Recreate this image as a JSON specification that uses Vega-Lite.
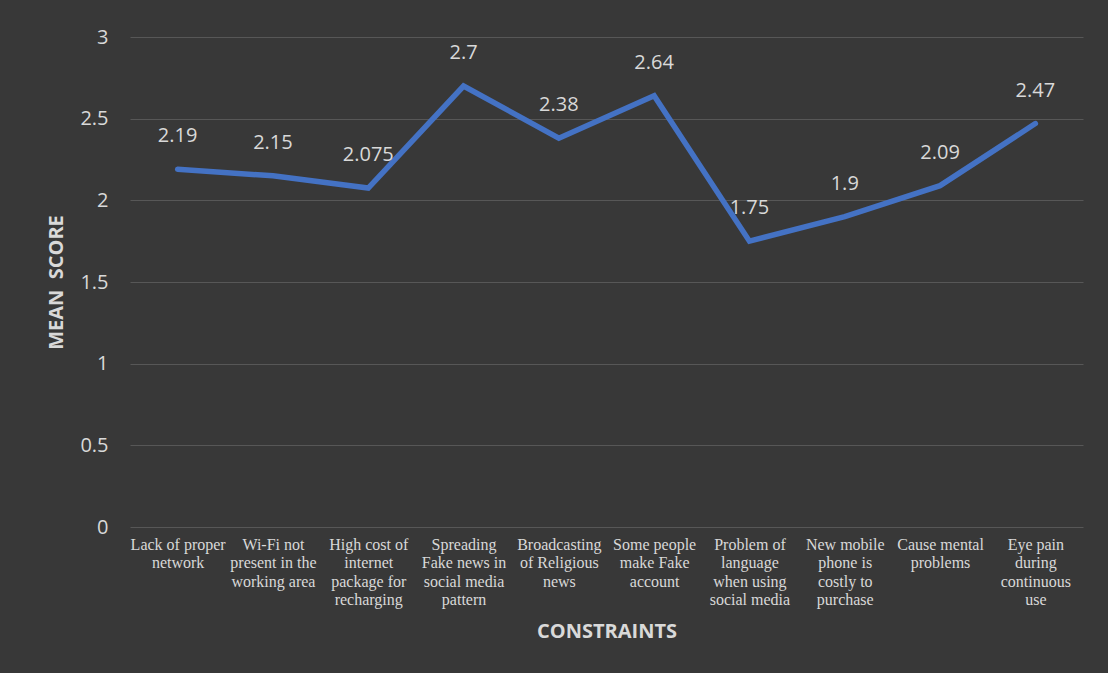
{
  "$schema": "https://vega.github.io/schema/vega-lite/v6.json",
  "width": 953,
  "height": 490,
  "autosize": {"type": "none"},
  "padding": {"left": 130, "top": 37, "right": 25, "bottom": 146},
  "background": "#383838",
  "config": {"view": {"stroke": null}},
  "data": {
    "values": [
      {"constraint": "Lack of proper|network", "score": 2.19, "label": "2.19"},
      {"constraint": "Wi-Fi not|present in the|working area", "score": 2.15, "label": "2.15"},
      {"constraint": "High cost of|internet|package for|recharging", "score": 2.075, "label": "2.075"},
      {"constraint": "Spreading|Fake news in|social media|pattern", "score": 2.7, "label": "2.7"},
      {"constraint": "Broadcasting|of Religious|news", "score": 2.38, "label": "2.38"},
      {"constraint": "Some people|make Fake|account", "score": 2.64, "label": "2.64"},
      {"constraint": "Problem of|language|when using|social media", "score": 1.75, "label": "1.75"},
      {"constraint": "New mobile|phone is|costly to|purchase", "score": 1.9, "label": "1.9"},
      {"constraint": "Cause mental|problems", "score": 2.09, "label": "2.09"},
      {"constraint": "Eye pain|during|continuous|use", "score": 2.47, "label": "2.47"}
    ]
  },
  "encoding": {
    "x": {
      "field": "constraint",
      "type": "nominal",
      "sort": null,
      "scale": {"type": "point", "padding": 0.5},
      "axis": {
        "title": "CONSTRAINTS",
        "titleFont": "Open Sans",
        "titleFontSize": 20,
        "titleFontWeight": "bold",
        "titleColor": "#d9d9d9",
        "titlePadding": 14,
        "labelExpr": "split(datum.value, '|')",
        "labelFont": "Liberation Serif",
        "labelFontSize": 16,
        "labelLineHeight": 18.5,
        "labelColor": "#d9d9d9",
        "labelAngle": 0,
        "labelPadding": 9,
        "labelBaseline": "top",
        "ticks": false,
        "domain": false,
        "grid": false
      }
    },
    "y": {
      "field": "score",
      "type": "quantitative",
      "scale": {"domain": [0, 3]},
      "axis": {
        "title": "MEAN\u00a0\u00a0SCORE",
        "titleFont": "Open Sans",
        "titleFontSize": 20,
        "titleFontWeight": "bold",
        "titleColor": "#d9d9d9",
        "titlePadding": 13,
        "values": [0, 0.5, 1, 1.5, 2, 2.5, 3],
        "format": ".1~f",
        "labelFont": "Open Sans",
        "labelFontSize": 20,
        "labelColor": "#d9d9d9",
        "labelPadding": 22,
        "ticks": false,
        "domain": false,
        "grid": true,
        "gridColor": "#575757",
        "gridWidth": 1.2
      }
    }
  },
  "layer": [
    {
      "mark": {"type": "line", "color": "#4472c4", "strokeWidth": 5.5, "strokeCap": "round", "strokeJoin": "miter"}
    },
    {
      "mark": {"type": "text", "dy": -33, "font": "Open Sans", "fontSize": 20, "color": "#d9d9d9"},
      "encoding": {"text": {"field": "label"}}
    }
  ]
}
